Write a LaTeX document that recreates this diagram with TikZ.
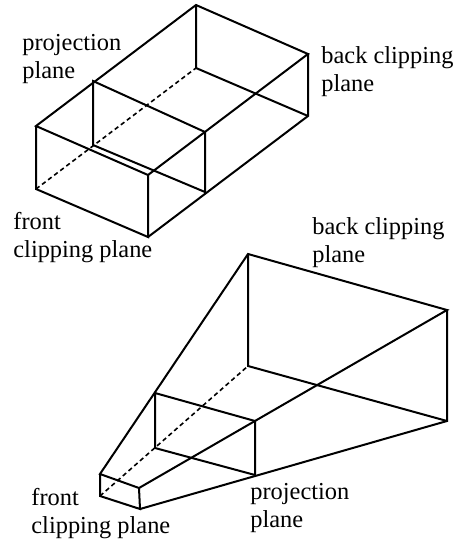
\documentclass[tikz,border=0pt]{standalone}
\usepackage{fontspec}
\setmainfont{Liberation Serif}
\usepackage{tikz}
\usetikzlibrary{calc}

\begin{document}
\begin{tikzpicture}[x=0.5pt,y=-0.5pt]
	\tikzstyle{edge}=[line width=1pt,line join=miter]
	\tikzstyle{hidden}=[line width=0.8pt,dash pattern=on 2.2pt off 1.6pt]
	\tikzstyle{caption}=[inner sep=0pt,anchor=base west,align=left,font=\fontsize{12.2}{14}\selectfont]

	\useasboundingbox (0,0) rectangle (460,542);

	% parallel volume
	\coordinate (F1) at (36,126);
	\coordinate (F2) at (148,175);
	\coordinate (F3) at (148,237);
	\coordinate (F4) at (36,189);
	\coordinate (P1) at (93,81);
	\coordinate (P2) at (205,132);
	\coordinate (P3) at (205,192);
	\coordinate (P4) at (93,145);
	\coordinate (B1) at (196,5);
	\coordinate (B2) at (308,54);
	\coordinate (B3) at (308,116);
	\coordinate (B4) at (196,68);

	\draw [edge] (F1) -- (B1) -- (B2) -- (F2) -- cycle;
	\draw [edge] (F1) -- (F4) -- (F3) -- (F2);
	\draw [edge] (F3) -- (B3) -- (B2);
	\draw [edge] (B3) -- (B4) -- (B1);
	\draw [edge] (P1) -- (P2) -- (P3) -- (P4) -- cycle;
	\draw [hidden] (F4) -- (B4);

	% perspective volume
	\coordinate (f1) at (100,474);
	\coordinate (f2) at (139,488);
	\coordinate (f3) at (140,509);
	\coordinate (f4) at (100,496);
	\coordinate (p1) at (155,393);
	\coordinate (p2) at (255,421);
	\coordinate (p3) at (255,475);
	\coordinate (p4) at (155,448);
	\coordinate (b1) at (248,254);
	\coordinate (b2) at (447,310);
	\coordinate (b3) at (447,421);
	\coordinate (b4) at (248,366);

	\draw [edge] (f1) -- (b1) -- (b2) -- (f2) -- cycle;
	\draw [edge] (f1) -- (f4) -- (f3) -- (f2);
	\draw [edge] (f3) -- (b3) -- (b2);
	\draw [edge] (b3) -- (b4) -- (b1);
	\draw [edge] (p1) -- (p2) -- (p3) -- (p4) -- cycle;
	\draw [hidden] (f4) -- (b4);

	\node (proj1) [caption] at (22,78) {projection\\plane};
	\node (back1) [caption] at (321,91) {back clipping\\plane};
	\node (front1) [caption] at (13,257) {front\\clipping plane};
	\node (back2) [caption] at (312,262) {back clipping\\plane};
	\node (front2) [caption] at (31,533) {front\\clipping plane};
	\node (proj2) [caption] at (250,527) {projection\\plane};
\end{tikzpicture}
\end{document}
